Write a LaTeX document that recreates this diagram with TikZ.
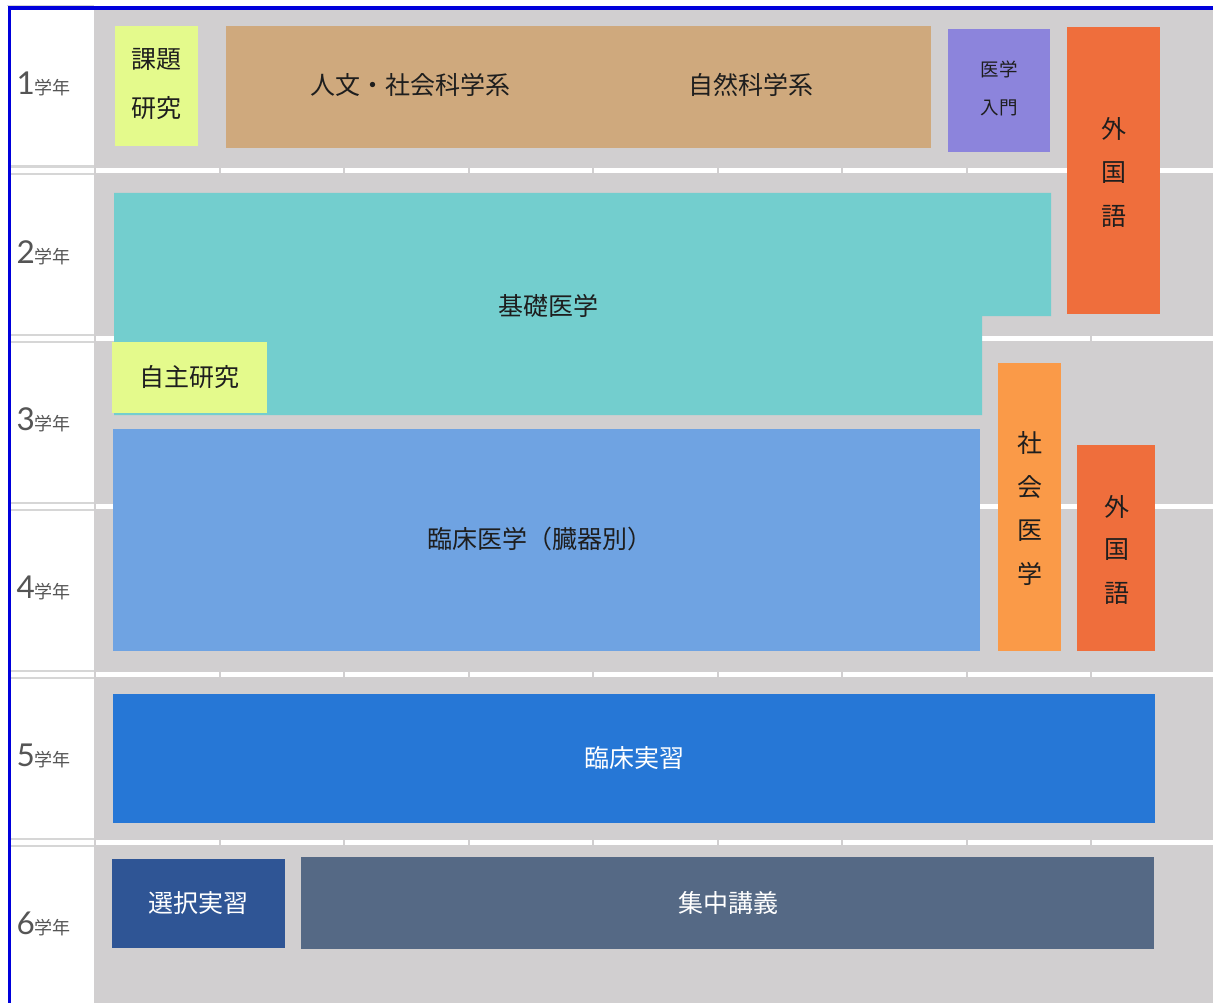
\documentclass[tikz,border=0pt]{standalone}
\usepackage{fontspec}
\setmainfont{Noto Sans CJK JP}
\newfontfamily\digitfont{Lato}
\definecolor{bggray}{RGB}{209,207,208}
\definecolor{linegray}{RGB}{214,214,214}
\definecolor{bluebord}{RGB}{0,0,220}
\definecolor{labgray}{RGB}{85,85,85}
\definecolor{txtdark}{RGB}{30,30,30}
\definecolor{cYellow}{RGB}{228,250,140}
\definecolor{cTan}{RGB}{207,169,125}
\definecolor{cPurple}{RGB}{140,132,220}
\definecolor{cOrangeRed}{RGB}{239,110,60}
\definecolor{cTeal}{RGB}{115,206,206}
\definecolor{cLightBlue}{RGB}{111,163,226}
\definecolor{cOrange}{RGB}{250,154,72}
\definecolor{cBlue}{RGB}{38,119,214}
\definecolor{cNavy}{RGB}{47,85,149}
\definecolor{cSlate}{RGB}{85,105,133}
\begin{document}
\begin{tikzpicture}[x=1pt,y=-1pt,
  txt/.style={inner sep=0pt, text=txtdark, font=\fontsize{25}{30}\selectfont},
  wtxt/.style={inner sep=0pt, text=white, font=\fontsize{25}{30}\selectfont},
  stxt/.style={inner sep=0pt, text=txtdark, font=\fontsize{18.5}{22}\selectfont},
  yearlab/.style={anchor=base west, inner sep=0pt, text=labgray}]
\useasboundingbox (0,0) rectangle (1213,1003);
\fill[white] (0,0) rectangle (1213,1003);
% gray content area
\fill[bggray] (94,9) rectangle (1213,1003);
\fill[linegray] (7,5) rectangle (94,6.5);
% row separators
\foreach \y in {167.7,335.7,503.7,671.7,839.7} {
  \fill[white] (96,\y) rectangle (1213,\y+5);
  \foreach \x in {219.7,344.2,468.7,593.2,717.7,842.2,966.7,1091.2}
    \fill[bggray] (\x-1,\y) rectangle (\x+1,\y+5);
  \fill[linegray] (11,\y-2.2) rectangle (94,\y);
  \fill[linegray] (11,\y+5) rectangle (94,\y+7.2);
}
% blue border
\fill[bluebord] (8,6.5) rectangle (1213,9.6);
\fill[bluebord] (7.8,6.5) rectangle (11.2,1003);
% year labels
\foreach \n/\yb in {1/95,2/263,3/430,4/598,5/766,6/934}
  \node[yearlab] (year\n) at (16.3,\yb) {{\digitfont\fontsize{31.5}{32}\selectfont \n}{\fontsize{18}{18}\selectfont 学年}};
% ---- Year 1
\fill[cYellow] (115,26) rectangle (198,146);
\node[txt] (kadai1) at (156.5,59) {課題};
\node[txt] (kadai2) at (156.5,108) {研究};
\fill[cTan] (226,26) rectangle (931,148);
\node[txt] (jinbun) at (410,85) {人文・社会科学系};
\node[txt] (shizen) at (751,85) {自然科学系};
\fill[cPurple] (948,29) rectangle (1050,152);
\node[stxt] (nyumon1) at (999,69) {医学};
\node[stxt] (nyumon2) at (999,108) {入門};
\fill[cOrangeRed] (1067,27) rectangle (1160,314);
\node[txt] (gai1a) at (1114,129) {外};
\node[txt] (gai1b) at (1114,173) {国};
\node[txt] (gai1c) at (1114,216) {語};
% ---- Basic medicine
\fill[cTeal] (114,193) -- (1051,193) -- (1051,316) -- (982,316) -- (982,415) -- (114,415) -- cycle;
\node[txt] (kiso) at (548,306) {基礎医学};
\fill[cYellow] (112,342) rectangle (267,413);
\node[txt] (jishu) at (189.5,377) {自主研究};
% ---- Clinical medicine
\fill[cLightBlue] (113,429) rectangle (980,651);
\node[txt] (rinsho) at (540,539) {臨床医学（臓器別）};
\fill[cOrange] (998,363) rectangle (1061,651);
\node[txt] (sha1) at (1030,443) {社};
\node[txt] (sha2) at (1030,487) {会};
\node[txt] (sha3) at (1030,531) {医};
\node[txt] (sha4) at (1030,574) {学};
\fill[cOrangeRed] (1077,445) rectangle (1155,651);
\node[txt] (gai2a) at (1117,507) {外};
\node[txt] (gai2b) at (1117,550) {国};
\node[txt] (gai2c) at (1117,593) {語};
% ---- Year 5
\fill[cBlue] (113,694) rectangle (1155,823);
\node[wtxt] (jisshu) at (634,758) {臨床実習};
% ---- Year 6
\fill[cNavy] (112,859) rectangle (285,948);
\node[wtxt] (sentaku) at (198,903) {選択実習};
\fill[cSlate] (301,857) rectangle (1154,949);
\node[wtxt] (shuchu) at (728,903) {集中講義};
\end{tikzpicture}
\end{document}
